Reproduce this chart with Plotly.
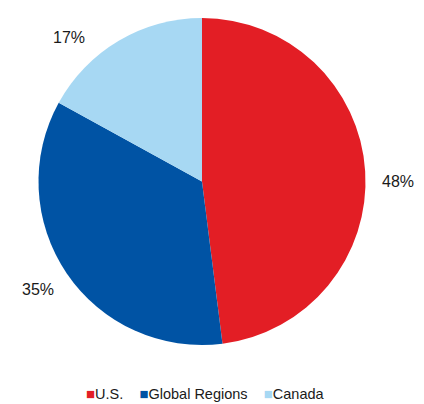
import math
import plotly.graph_objects as go

labels = ["U.S.", "Global Regions", "Canada"]
values = [48, 35, 17]
colors = ["#E31E25", "#0053A4", "#A7D8F3"]

# style / layout settings (not data)
W, H = 424, 404
CX, CY, R = 202, 181.5, 163.5
LABEL_RADIUS = 1.2
LABEL_ANGLE_SHIFT = [3.6, 0.8, -12.0]
FONT = "Liberation Sans, Arial, sans-serif"

fig = go.Figure(go.Pie(
    labels=labels,
    values=values,
    marker=dict(colors=colors, line=dict(width=0)),
    sort=False,
    direction="clockwise",
    rotation=0,
    textinfo="none",
    domain=dict(x=[(CX - R) / W, (CX + R) / W], y=[1 - (CY + R) / H, 1 - (CY - R) / H]),
    hoverinfo="label+percent",
    showlegend=False,
))

# percentage labels placed outside each slice, from the data
total = sum(values)
cum = 0
annotations = []
for v, shift in zip(values, LABEL_ANGLE_SHIFT):
    mid = (cum + v / 2) / total * 360 + shift
    cum += v
    a = math.radians(mid)
    px = CX + LABEL_RADIUS * R * math.sin(a)
    py = CY - LABEL_RADIUS * R * math.cos(a)
    annotations.append(dict(
        x=px / W, y=1 - py / H, xref="paper", yref="paper",
        text=f"{round(v / total * 100)}%", showarrow=False,
        xanchor="center", yanchor="middle",
        font=dict(family=FONT, size=16, color="#1a1a1a"),
    ))

# legend row
parts = []
for lab, col in zip(labels, colors):
    parts.append(f"<span style='color:{col};font-size:15px'>■</span>{lab}")
legend_text = "\u00a0\u00a0\u00a0\u00a0".join(parts)
annotations.append(dict(
    x=205 / W, y=1 - 393 / H, xref="paper", yref="paper",
    text=legend_text, showarrow=False, xanchor="center", yanchor="middle",
    font=dict(family=FONT, size=14.5, color="#1a1a1a"),
))

fig.update_layout(
    width=W, height=H,
    margin=dict(l=0, r=0, t=0, b=0),
    paper_bgcolor="white",
    plot_bgcolor="white",
    annotations=annotations,
)

fig.write_html(
    "out.html",
    config={"displayModeBar": False},
    post_script="document.body.style.margin='0';document.body.style.overflow='hidden';",
)
